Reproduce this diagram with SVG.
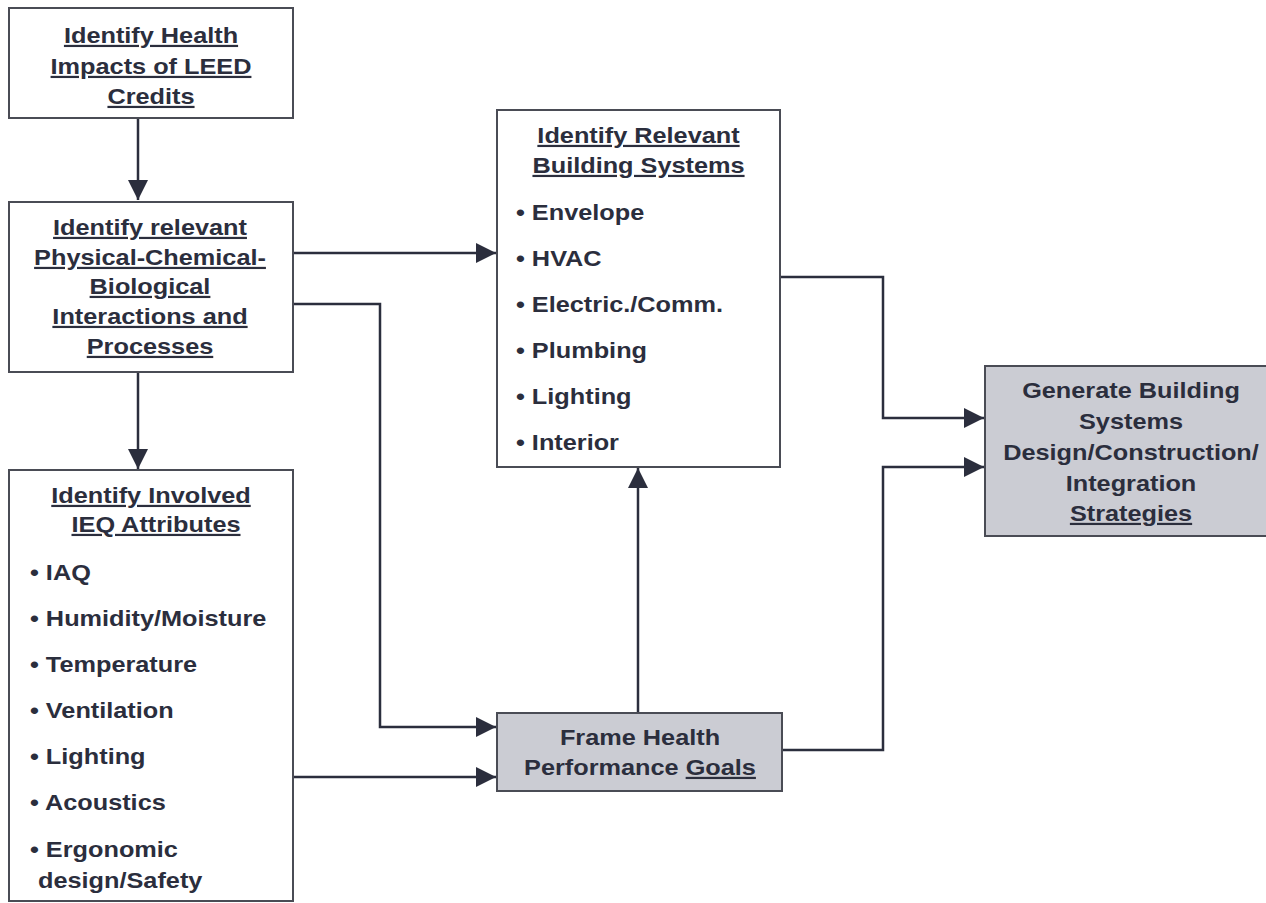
<svg xmlns="http://www.w3.org/2000/svg" width="1266" height="903" viewBox="0 0 1266 903">
<defs>
<style>
.box{fill:#ffffff;stroke:#4a4c55;stroke-width:2}
.gbox{fill:#cbccd3;stroke:#4a4c55;stroke-width:2}
.t{font-family:"Liberation Sans",Arial,sans-serif;font-weight:bold;font-size:22px;fill:#2b2e3d}
.c{text-anchor:middle}
.u{text-decoration:underline}
.conn{fill:none;stroke:#2b2e3d;stroke-width:2.5}
</style>
<marker id="ah" markerUnits="userSpaceOnUse" markerWidth="20" markerHeight="20" refX="20" refY="10" orient="auto">
<path d="M0,0 L20,10 L0,20 z" fill="#2b2e3d"/>
</marker>
</defs>
<rect width="1266" height="903" fill="#ffffff"/>

<g id="connectors">
<path class="conn" d="M138,118 V200" marker-end="url(#ah)"/>
<path class="conn" d="M138,372 V469" marker-end="url(#ah)"/>
<path class="conn" d="M293,253 H496" marker-end="url(#ah)"/>
<path class="conn" d="M293,304 H380 V727 H496" marker-end="url(#ah)"/>
<path class="conn" d="M293,777 H496" marker-end="url(#ah)"/>
<path class="conn" d="M638,713 V468" marker-end="url(#ah)"/>
<path class="conn" d="M780,277 H883 V418 H984" marker-end="url(#ah)"/>
<path class="conn" d="M782,750 H883 V467 H984" marker-end="url(#ah)"/>
</g>

<g id="n1">
<rect class="box" x="9" y="8" width="284" height="110"/>
<g transform="translate(151 0) scale(1.15 1)">
<text class="t c u" x="0" y="43">Identify Health</text>
<text class="t c u" x="0" y="74">Impacts of LEED</text>
<text class="t c u" x="0" y="104">Credits</text>
</g>
</g>

<g id="n2">
<rect class="box" x="9" y="202" width="284" height="170"/>
<g transform="translate(150 0) scale(1.15 1)">
<text class="t c u" x="0" y="235">Identify relevant</text>
<text class="t c u" x="0" y="265">Physical-Chemical-</text>
<text class="t c u" x="0" y="294">Biological</text>
<text class="t c u" x="0" y="324">Interactions and</text>
<text class="t c u" x="0" y="354">Processes</text>
</g>
</g>

<g id="n3">
<rect class="box" x="9" y="470" width="284" height="431"/>
<g transform="translate(151 0) scale(1.15 1)">
<text class="t c u" x="0" y="503">Identify Involved</text>
</g>
<g transform="translate(156 0) scale(1.15 1)">
<text class="t c u" x="0" y="532">IEQ Attributes</text>
</g>
<g transform="translate(30 0) scale(1.15 1)">
<text class="t" x="0" y="580">• IAQ</text>
<text class="t" x="0" y="626">• Humidity/Moisture</text>
<text class="t" x="0" y="672">• Temperature</text>
<text class="t" x="0" y="718">• Ventilation</text>
<text class="t" x="0" y="764">• Lighting</text>
<text class="t" x="0" y="810">• Acoustics</text>
<text class="t" x="0" y="857">• Ergonomic</text>
</g>
<g transform="translate(38 0) scale(1.15 1)">
<text class="t" x="0" y="888">design/Safety</text>
</g>
</g>

<g id="n4">
<rect class="box" x="497" y="110" width="283" height="357"/>
<g transform="translate(638.5 0) scale(1.15 1)">
<text class="t c u" x="0" y="143">Identify Relevant</text>
<text class="t c u" x="0" y="173">Building Systems</text>
</g>
<g transform="translate(516 0) scale(1.15 1)">
<text class="t" x="0" y="220">• Envelope</text>
<text class="t" x="0" y="266">• HVAC</text>
<text class="t" x="0" y="312">• Electric./Comm.</text>
<text class="t" x="0" y="358">• Plumbing</text>
<text class="t" x="0" y="404">• Lighting</text>
<text class="t" x="0" y="450">• Interior</text>
</g>
</g>

<g id="n5">
<rect class="gbox" x="497" y="713" width="285" height="78"/>
<g transform="translate(640 0) scale(1.15 1)">
<text class="t c" x="0" y="745">Frame Health</text>
<text class="t c" x="0" y="775">Performance <tspan class="u">Goals</tspan></text>
</g>
</g>

<g id="n6">
<rect class="gbox" x="985" y="366" width="290" height="170"/>
<g transform="translate(1131 0) scale(1.15 1)">
<text class="t c" x="0" y="398">Generate Building</text>
<text class="t c" x="0" y="429">Systems</text>
<text class="t c" x="0" y="460">Design/Construction/</text>
<text class="t c" x="0" y="491">Integration</text>
<text class="t c u" x="0" y="521">Strategies</text>
</g>
</g>
</svg>
